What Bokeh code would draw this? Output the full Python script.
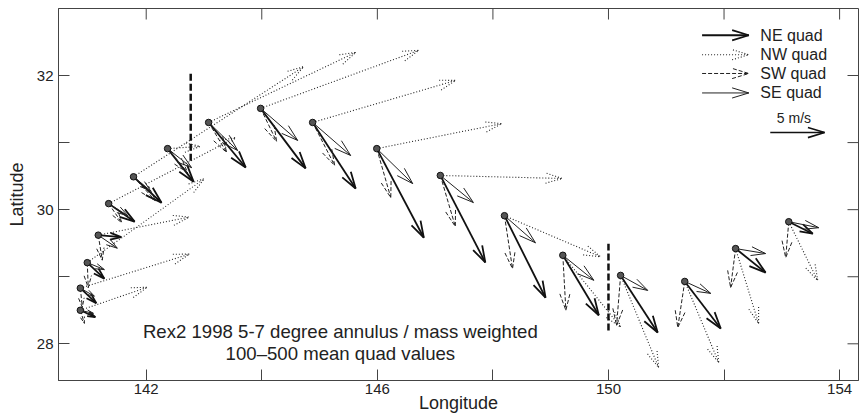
import numpy as np
from bokeh.plotting import figure
from bokeh.models import LinearAxis, FixedTicker, Range1d
from bokeh.embed import file_html
from bokeh.resources import INLINE
from bokeh.core.properties import value

# ---------------- data ----------------
# station positions (longitude, latitude)
st_lon = [140.86, 140.86, 140.98, 141.17, 141.35, 141.78, 142.37, 143.08, 143.98,
          144.88, 145.99, 147.09, 148.20, 149.21, 150.21, 151.32, 152.20, 153.12]
st_lat = [28.50, 28.83, 29.21, 29.62, 30.09, 30.49, 30.91, 31.30, 31.51,
          31.30, 30.91, 30.51, 29.91, 29.32, 29.02, 28.93, 29.42, 29.82]

# quadrant mean winds (m/s): u eastward, v northward
ne_u = [1.38, 1.47, 1.57, 2.12, 2.39, 2.58, 2.39, 3.41, 4.14, 3.96, 4.33, 4.14, 3.78, 3.31, 3.41, 3.31, 2.76, 2.21]
ne_v = [-0.64, -1.38, -1.47, -0.18, -1.66, -2.39, -3.04, -4.14, -5.52, -6.08, -8.20, -8.01, -7.55, -5.52, -5.25, -4.33, -2.21, -1.10]
nw_u = [6.17, 10.04, 10.77, 8.38, 11.69, 15.65, 3.00, 13.54, 14.55, 13.17, 11.51, 11.23, 8.84, 5.34, 3.50, 3.13, 2.12, 2.67]
nw_v = [2.12, 3.13, 7.73, 1.66, 6.08, 10.13, 0.20, 6.45, 5.34, 3.87, 2.30, -0.28, -3.78, -6.63, -8.47, -7.46, -6.91, -5.43]
sw_u = [0.37, 0.18, 0.09, 0.37, 1.20, 2.03, 1.84, 1.66, 1.47, 2.03, 1.29, 1.38, 0.74, 0.28, -0.37, -0.64, -0.46, -0.28]
sw_v = [-1.20, -1.75, -2.30, -2.30, -1.75, -2.21, -2.21, -2.76, -3.04, -3.96, -4.51, -4.70, -4.88, -5.06, -4.60, -4.24, -3.59, -3.31]
se_u = [1.20, 1.29, 1.57, 1.75, 1.75, 1.57, 2.21, 2.67, 3.41, 3.50, 3.31, 3.04, 2.85, 2.85, 2.49, 2.39, 2.76, 2.76]
se_v = [-0.28, -0.74, -0.64, -1.20, -1.10, -1.29, -1.75, -2.58, -2.95, -3.04, -3.22, -2.49, -2.49, -2.30, -1.38, -1.10, -0.46, -0.55]

# dividing lines (thick dashed)
div_x = [142.77, 150.00]
div_y0 = [30.73, 28.20]
div_y1 = [32.05, 29.49]

legend_labels = ["NE quad", "NW quad", "SW quad", "SE quad"]
legend_lat = [32.60, 32.31, 32.03, 31.74]
legend_lon = 151.62
legend_speed = 4.3
ref_speed = 5.0
ref_lon, ref_lat = 152.80, 31.15

annot_lines = ["Rex2 1998 5-7 degree annulus / mass weighted", "100\u2013500 mean quad values"]
annot_lat = [28.18, 27.86]
annot_lon = 145.36

x_ticks = [142, 146, 150, 154]
x_minor = [144, 148, 152]
y_ticks = [28, 30, 32]
y_minor = [29, 31]

X0, X1 = 140.482, 154.327
Y0, Y1 = 27.453, 32.999

# ---------------- geometry ----------------
COSLAT = np.cos(np.radians(30.5))
SCALE = 0.162          # degrees latitude per m/s
HEAD = 0.26            # arrow head length (deg latitude)
ANG = np.radians(17)


def arrows(lons, lats, us, vs):
    xs, ys = [], []
    ca, sa = np.cos(ANG), np.sin(ANG)
    for x0, y0, u, v in zip(lons, lats, us, vs):
        dx, dy = u * SCALE, v * SCALE
        x1, y1 = x0 + dx / COSLAT, y0 + dy
        L = np.hypot(dx, dy)
        h = min(HEAD, 0.5 * L)
        ux, uy = dx / L, dy / L
        b1x, b1y = h * (-ux * ca + uy * sa), h * (-uy * ca - ux * sa)
        b2x, b2y = h * (-ux * ca - uy * sa), h * (-uy * ca + ux * sa)
        xs.append([x0, x1]); ys.append([y0, y1])
        xs.append([x1 + b1x / COSLAT, x1, x1 + b2x / COSLAT])
        ys.append([y1 + b1y, y1, y1 + b2y])
    return xs, ys


p = figure(width=859, height=417,
           x_range=Range1d(X0, X1), y_range=Range1d(Y0, Y1),
           output_backend="svg", toolbar_location=None,
           x_axis_location=None, y_axis_location=None,
           min_border_left=58, min_border_right=1, min_border_top=8, min_border_bottom=37)
p.grid.visible = False
p.outline_line_color = "#444"
p.outline_line_width = 1
p.background_fill_color = "white"
p.border_fill_color = "white"

AX = "#444"
FONT = "Liberation Sans"


def mkaxis(side, ticks, minor, label, standoff, label_standoff):
    ax = LinearAxis(ticker=FixedTicker(ticks=ticks, minor_ticks=minor))
    ax.major_tick_in = 11
    ax.major_tick_out = 0
    ax.minor_tick_in = 11
    ax.minor_tick_out = 0
    ax.axis_line_color = AX
    ax.major_tick_line_color = AX
    ax.minor_tick_line_color = AX
    ax.major_label_text_font = FONT
    ax.major_label_text_font_size = "15px"
    ax.major_label_text_color = "#222"
    ax.major_label_standoff = standoff
    ax.axis_label = label
    ax.axis_label_text_font = FONT
    ax.axis_label_text_font_size = "18px"
    ax.axis_label_text_font_style = "normal"
    ax.axis_label_text_color = "#222"
    ax.axis_label_standoff = label_standoff
    p.add_layout(ax, side)


mkaxis("below", x_ticks, x_minor, "Longitude", 3, -4)
mkaxis("left", y_ticks, y_minor, "Latitude", 5, 7)

# inward ticks on the top and right frame edges
p.ray(x=x_ticks + x_minor, y=[Y1] * 7, length=11, length_units="screen", angle=-np.pi / 2,
      line_color=AX, line_width=1)
p.ray(x=[X1] * 5, y=y_ticks + y_minor, length=11, length_units="screen", angle=np.pi,
      line_color=AX, line_width=1)

styles = [
    (ne_u, ne_v, dict(line_color="#111", line_width=1.8)),
    (nw_u, nw_v, dict(line_color="#222", line_width=1.1, line_dash="1 2")),
    (sw_u, sw_v, dict(line_color="#222", line_width=1.0, line_dash="4 2")),
    (se_u, se_v, dict(line_color="#222", line_width=1.0)),
]
for us, vs, st in styles:
    xs, ys = arrows(st_lon, st_lat, us, vs)
    p.multi_line(xs=xs, ys=ys, **st)

# legend arrows
for i, (us, vs, st) in enumerate(styles):
    xs, ys = arrows([legend_lon], [legend_lat[i]], [legend_speed], [0.0])
    p.multi_line(xs=xs, ys=ys, **st)

p.text(x=[legend_lon + legend_speed * SCALE / COSLAT + 0.2] * 4, y=legend_lat, text=legend_labels,
       text_font=value(FONT), text_font_size="16px", text_color="#222",
       text_align="left", text_baseline="middle")

# reference arrow
xs, ys = arrows([ref_lon], [ref_lat], [ref_speed], [0.0])
p.multi_line(xs=xs, ys=ys, line_color="#111", line_width=1.6)
p.text(x=[ref_lon + 0.5 * ref_speed * SCALE / COSLAT - 0.06], y=[ref_lat + 0.215], text=["5 m/s"],
       text_font=value(FONT), text_font_size="14px", text_color="#222",
       text_align="center", text_baseline="middle")

# dividing lines
p.segment(x0=div_x, y0=div_y0, x1=div_x, y1=div_y1, line_color="#111", line_width=2.5, line_dash="7 3")

# station markers
p.scatter(x=st_lon, y=st_lat, size=6.5, fill_color="#555", line_color="#111", line_width=1)

# annotation text
p.text(x=[annot_lon] * 2, y=annot_lat, text=annot_lines,
       text_font=value(FONT), text_font_size="18.6px", text_color="#222",
       text_align="center", text_baseline="middle")

open("out.html", "w").write(file_html(p, INLINE))
